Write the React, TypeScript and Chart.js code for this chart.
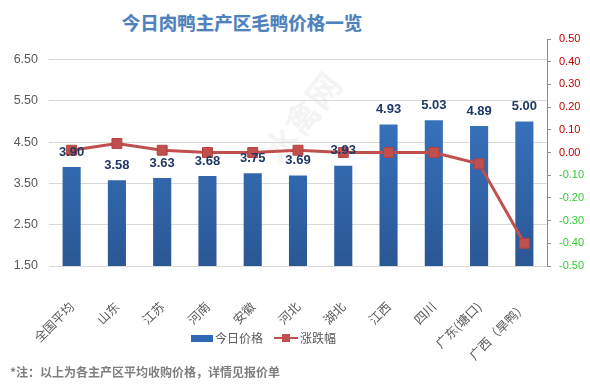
import React, { useEffect, useRef } from "react";
import { Chart, registerables } from "chart.js";

Chart.register(...registerables);

const titleText = "今日肉鸭主产区毛鸭价格一览";
const footnoteText = "*注：以上为各主产区平均收购价格，详情见报价单";
const categories = ["全国平均", "山东", "江苏", "河南", "安徽", "河北", "湖北", "江西", "四川", "广东(塘口)", "广西（旱鸭）"];
const prices = [3.9, 3.58, 3.63, 3.68, 3.75, 3.69, 3.93, 4.93, 5.03, 4.89, 5.0];
const changes = [0.01, 0.04, 0.01, 0.0, 0.0, 0.01, 0.0, 0.0, 0.0, -0.05, -0.4];
const leftTicks = [1.5, 2.5, 3.5, 4.5, 5.5, 6.5];
const rightTicks = [0.5, 0.4, 0.3, 0.2, 0.1, 0.0, -0.1, -0.2, -0.3, -0.4, -0.5];
const seriesNames = ["今日价格", "涨跌幅"];

const FONT = '"Liberation Sans", Arial, "Noto Sans CJK SC", sans-serif';
const CJK = '"Noto Sans CJK SC", "Liberation Sans", sans-serif';

const barLabelPlugin = {
  id: "barLabels",
  afterDatasetsDraw(chart: any) {
    const meta = chart.getDatasetMeta(0);
    const ctx = chart.ctx;
    ctx.save();
    ctx.font = `bold 13px ${FONT}`;
    ctx.fillStyle = "#1f3864";
    ctx.textAlign = "center";
    ctx.textBaseline = "middle";
    meta.data.forEach((el: any, i: number) => {
      ctx.fillText(prices[i].toFixed(2), el.x, el.y - 15);
    });
    ctx.restore();
  },
};

export default function App() {
  const ref = useRef<HTMLCanvasElement>(null);

  useEffect(() => {
    if (!ref.current) return;
    const chart = new Chart(ref.current, {
      type: "bar",
      data: {
        labels: categories,
        datasets: [
          {
            type: "bar",
            label: seriesNames[0],
            data: prices,
            yAxisID: "y",
            order: 2,
            categoryPercentage: 1,
            barPercentage: 0.4,
            backgroundColor: (c: any) => {
              const area = c.chart.chartArea;
              if (!area) return "#3470bd";
              const g = c.chart.ctx.createLinearGradient(0, area.top, 0, area.bottom);
              g.addColorStop(0, "#3d7fd0");
              g.addColorStop(1, "#2a5795");
              return g;
            },
          } as any,
          {
            type: "line",
            label: seriesNames[1],
            data: changes,
            yAxisID: "y1",
            order: 1,
            borderColor: "#c0504d",
            borderWidth: 3,
            pointStyle: "rect",
            pointRadius: 7,
            pointBackgroundColor: "#c0504d",
            pointBorderColor: "#b5413e",
            pointBorderWidth: 1,
            tension: 0,
          } as any,
        ],
      },
      options: {
        responsive: false,
        animation: false,
        layout: { padding: { top: 39, left: 0, right: 0, bottom: 0 } },
        plugins: {
          legend: { display: false },
          title: { display: false },
          tooltip: { enabled: false },
        },
        scales: {
          x: {
            grid: { display: false },
            border: { display: false },
            ticks: {
              minRotation: 45,
              maxRotation: 45,
              padding: 25,
              color: "#595959",
              font: { size: 12.5, family: CJK },
              autoSkip: false,
            },
            afterFit: (s: any) => {
              s.height = 124;
            },
          },
          y: {
            position: "left",
            min: 1.5,
            max: 7.0,
            afterBuildTicks: (s: any) => {
              s.ticks = leftTicks.map((v) => ({ value: v }));
            },
            afterFit: (s: any) => {
              s.width = 49;
            },
            grid: { color: "#d9d9d9", drawTicks: false },
            border: { display: false },
            ticks: {
              padding: 11,
              color: "#595959",
              font: { size: 12.5, family: FONT },
              callback: (v: any) => Number(v).toFixed(2),
            },
          },
          y1: {
            position: "right",
            min: -0.5,
            max: 0.5,
            afterBuildTicks: (s: any) => {
              s.ticks = rightTicks.map((v) => ({ value: v }));
            },
            afterFit: (s: any) => {
              s.width = 43;
            },
            grid: { drawOnChartArea: false, drawTicks: true, tickLength: 4, color: "#8c8c8c" },
            border: { display: true, color: "#8c8c8c", width: 1 },
            ticks: {
              padding: 8,
              font: { size: 11, family: FONT },
              color: (c: any) => (c.tick && c.tick.value < -1e-9 ? "#33cc33" : "#c00000"),
              callback: (v: any) => {
                const n = Math.abs(Number(v)) < 1e-9 ? 0 : Number(v);
                return n.toFixed(2);
              },
            },
          },
        },
      },
      plugins: [barLabelPlugin],
    });
    return () => chart.destroy();
  }, []);

  return (
    <div style={{ position: "fixed", left: 0, top: 0, width: 590, height: 390, background: "#fff", overflow: "hidden" }}>
      <div
        style={{
          position: "absolute",
          left: 0,
          top: 9,
          width: 484,
          textAlign: "center",
          font: `bold 18.5px ${CJK}`,
          color: "#4f81bd",
          lineHeight: "26px",
          textShadow: "0 0 1px rgba(79,129,189,0.4)",
        }}
      >
        {titleText}
      </div>
      <div
        style={{
          position: "absolute",
          left: 250,
          top: 92,
          transform: "rotate(-52deg)",
          transformOrigin: "center",
          font: `bold 34px ${CJK}`,
          color: "rgba(170,170,170,0.15)",
          whiteSpace: "nowrap",
          pointerEvents: "none",
        }}
      >
        水禽网
      </div>
      <canvas ref={ref} width={590} height={390} style={{ position: "absolute", left: 0, top: 0 }} />
      <div
        style={{
          position: "absolute",
          left: 191,
          top: 330,
          display: "flex",
          alignItems: "center",
          font: `12px ${CJK}`,
          color: "#595959",
          lineHeight: "16px",
        }}
      >
        <span style={{ display: "inline-block", width: 22, height: 7, background: "#2f69b3", marginRight: 2 }} />
        <span>{seriesNames[0]}</span>
        <span style={{ display: "inline-block", position: "relative", width: 24, height: 10, marginLeft: 11, marginRight: 2 }}>
          <span style={{ position: "absolute", left: 0, top: 4, width: 24, height: 2, background: "#c0504d" }} />
          <span style={{ position: "absolute", left: 8, top: 1, width: 8, height: 8, background: "#c0504d" }} />
        </span>
        <span>{seriesNames[1]}</span>
      </div>
      <div
        style={{
          position: "absolute",
          left: 10,
          top: 363,
          font: `bold 12px ${CJK}`,
          color: "#7f7f7f",
          lineHeight: "18px",
          whiteSpace: "nowrap",
        }}
      >
        {footnoteText}
      </div>
    </div>
  );
}
